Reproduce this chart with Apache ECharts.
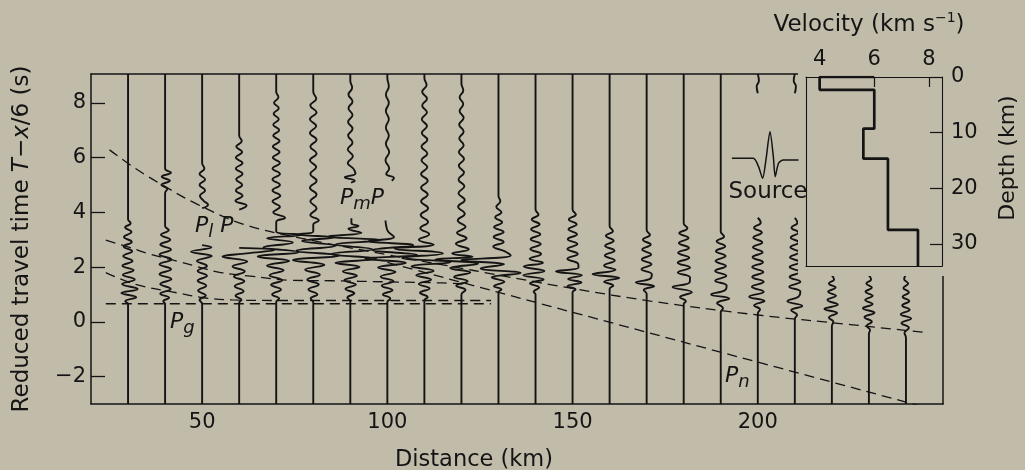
<!DOCTYPE html>
<html><head><meta charset="utf-8">
<script src="https://cdn.jsdelivr.net/npm/echarts@6/dist/echarts.min.js"></script>
<style>html,body{margin:0;padding:0;background:#c1bbaa}#c{width:1025px;height:470px}</style>
</head><body><div id="c"></div>
<script>
// ---------- DATA ----------
// trace distances (km)
const distances = [30,40,50,60,70,80,90,100,110,120,130,140,150,160,170,180,190,200,210,220,230,240];
// each trace: [reduced time (s), amplitude offset (km)] from top to bottom; null = gap in trace
const tr30 = [[9.05,0],[3.75,0],[3.6,0.7],[3.45,-0.8],[3.28,0.9],[3.1,-1.1],[2.92,1.0],[2.75,-1.2],[2.58,1.1],[2.4,-1.3],[2.22,1.2],[2.05,-1.5],[1.88,1.5],[1.72,-1.4],[1.55,1.8],[1.38,-1.6],[1.2,2.6],[1.05,-1.8],[0.9,2.2],[0.75,-0.8],[0.65,0],[-3,0]];
const tr40 = [[9.05,0],[5.6,0],[5.45,1.6],[5.3,-0.9],[5.15,1.3],[5.0,-1.0],[4.85,0.6],[4.7,0],[3.5,0],[3.35,1.0],[3.18,-1.1],[3.0,1.4],[2.82,-1.3],[2.64,1.6],[2.46,-1.5],[2.28,1.7],[2.1,-1.5],[1.92,1.6],[1.74,-1.5],[1.56,1.7],[1.38,-1.3],[1.2,1.5],[1.03,-1.3],[0.88,1.1],[0.75,-0.5],[0.65,0],[-3,0]];
const tr50 = [[9.05,0],[5.8,0],[5.6,0.6],[5.4,-0.7],[5.2,0.8],[5.0,-0.7],[4.8,0.8],[4.6,-0.6],[4.42,0.4],[4.28,1.6],[4.15,0],null,[2.8,0],[2.72,2.5],[2.56,-3.0],[2.4,2.6],[2.22,-1.4],[2.04,1.3],[1.86,-1.2],[1.68,1.3],[1.5,-1.2],[1.32,1.1],[1.14,-1.1],[0.96,1.0],[0.8,-0.7],[0.65,0],[-3,0]];
const tr60 = [[9.05,0],[6.8,0],[6.6,0.7],[6.4,-0.8],[6.2,0.8],[6.0,-0.9],[5.8,0.9],[5.6,-0.9],[5.4,0.9],[5.2,-0.8],[5.0,0.8],[4.8,-0.9],[4.6,0.9],[4.42,-1.0],[4.25,2.0],[4.1,0],null,[2.7,0],[2.62,9.5],[2.5,2],[2.38,-4.5],[2.2,2.2],[2.02,-1.8],[1.84,1.5],[1.66,-1.4],[1.48,1.4],[1.3,-1.2],[1.12,1.2],[0.95,-1.0],[0.8,0.6],[0.7,0],[-3,0]];
const tr70 = [[9.05,0],[8.4,0],[8.2,0.6],[8.0,-0.6],[7.8,0.7],[7.6,-0.7],[7.4,0.7],[7.2,-0.8],[7.0,0.8],[6.8,-0.8],[6.6,0.9],[6.4,-0.9],[6.2,0.9],[6.0,-0.9],[5.8,1.0],[5.6,-1.0],[5.4,1.0],[5.2,-1.0],[5.0,1.0],[4.8,-1.0],[4.6,1.1],[4.4,-1.0],[4.2,1.0],[4.0,-0.8],[3.8,2.4],[3.65,0],[3.3,0],[3.18,7],[3.05,-2.5],[2.9,4.5],[2.72,-3.5],[2.55,6],[2.38,-5],[2.22,3.5],[2.05,-2.5],[1.88,2.0],[1.7,-1.8],[1.52,1.6],[1.35,-1.4],[1.18,1.3],[1.0,-1.1],[0.85,0.8],[0.72,0],[-3,0]];
const tr80 = [[9.05,0],[8.4,0],[8.15,0.8],[7.9,-0.8],[7.65,0.9],[7.4,-0.9],[7.15,0.8],[6.9,-0.9],[6.65,0.9],[6.4,-0.8],[6.15,0.9],[5.9,-0.9],[5.65,0.8],[5.4,-0.8],[5.15,0.9],[4.9,-0.9],[4.65,0.9],[4.4,-0.8],[4.15,0.9],[3.9,-0.8],[3.7,1.5],[3.55,0],[3.3,0],[3.2,-4],[3.08,5.5],[2.95,-3],[2.78,6],[2.6,-4.5],[2.42,7],[2.25,-5.5],[2.08,3],[1.9,-2.2],[1.72,1.8],[1.54,-1.6],[1.36,1.5],[1.18,-1.3],[1.0,1.1],[0.85,-0.7],[0.72,0],[-3,0]];
const tr90 = [[9.05,0],[8.8,0],[8.55,0.5],[8.3,-0.5],[8.05,0.6],[7.8,-0.5],[7.55,0.6],[7.3,-0.6],[7.05,0.6],[6.8,-0.6],[6.55,0.6],[6.3,-0.7],[6.05,0.7],[5.8,-0.7],[5.6,0.8],[5.42,1.4],[5.28,-1.5],[5.15,1.2],[5.08,0.2],null,[3.78,0.3],[3.6,0.3],[3.5,2.2],[3.4,-0.5],[3.25,3],[3.12,-6],[2.98,8],[2.82,-4],[2.65,6],[2.48,-5],[2.3,7],[2.15,-4],[2.0,2.5],[1.84,-2],[1.68,1.8],[1.52,-1.6],[1.36,1.5],[1.2,-1.3],[1.04,1.1],[0.88,-0.8],[0.75,0],[-3,0]];
const tr100 = [[9.05,0],[8.9,0],[8.6,0.4],[8.3,-0.4],[8.0,0.4],[7.7,-0.4],[7.4,0.4],[7.1,-0.4],[6.8,0.4],[6.5,-0.4],[6.2,0.5],[5.9,-0.5],[5.6,0.5],[5.4,-0.3],[5.25,1.8],[5.15,1.2],null,[3.7,-0.5],[3.5,-0.3],[3.3,0.2],[3.1,1.8],[2.95,-5],[2.8,7],[2.62,-4],[2.45,8],[2.3,-6],[2.15,5],[1.98,-2.5],[1.82,2.2],[1.65,-1.8],[1.48,1.7],[1.32,-1.5],[1.15,1.4],[1.0,-1.2],[0.85,0.8],[0.72,0],[-3,0]];
const tr110 = [[9.05,0],[8.9,0],[8.65,0.6],[8.4,-0.6],[8.15,0.7],[7.9,-0.6],[7.65,0.7],[7.4,-0.7],[7.15,0.7],[6.9,-0.7],[6.65,0.8],[6.4,-0.8],[6.15,0.8],[5.9,-0.8],[5.65,0.8],[5.4,-0.9],[5.15,0.9],[4.9,-0.9],[4.65,0.9],[4.4,-0.9],[4.15,1.0],[3.9,-1.0],[3.65,1.0],[3.42,-1.1],[3.2,1.3],[3.0,-1.5],[2.82,2.5],[2.68,-8],[2.5,5],[2.33,-6],[2.18,7],[2.02,-3.5],[1.86,2.5],[1.7,-2.2],[1.54,1.8],[1.38,-1.5],[1.22,1.4],[1.06,-1.2],[0.9,0.9],[0.78,0],[-3,0]];
const tr120 = [[9.05,0],[8.7,0],[8.45,0.5],[8.2,-0.5],[7.95,0.5],[7.7,-0.5],[7.45,0.6],[7.2,-0.6],[6.95,0.6],[6.7,-0.6],[6.45,0.6],[6.2,-0.7],[5.95,0.7],[5.7,-0.7],[5.45,0.7],[5.2,-0.8],[4.95,0.8],[4.7,-0.8],[4.45,0.9],[4.2,-0.9],[3.95,0.9],[3.7,-1.0],[3.47,1.1],[3.25,-1.2],[3.05,1.4],[2.85,-1.5],[2.65,2.0],[2.5,-2.5],[2.38,3],[2.28,-7],[2.12,4.5],[1.96,-3],[1.8,2.4],[1.64,-2],[1.48,1.7],[1.32,-1.4],[1.16,1.1],[1.0,0],[-3,0]];
const tr130 = [[9.05,0],[4.6,0],[4.4,0.5],[4.2,-0.6],[4.0,0.8],[3.82,-0.9],[3.64,1.0],[3.46,-1.2],[3.28,1.4],[3.1,-1.3],[2.92,1.4],[2.75,-1.4],[2.58,1.6],[2.42,3.3],[2.25,-10],[2.1,1.5],[1.95,-4.8],[1.78,6],[1.62,-1.8],[1.46,1.6],[1.3,-1.2],[1.18,0.8],[1.08,0],[-3,0]];
const tr140 = [[9.05,0],[4.1,0],[3.92,0.8],[3.74,-1.0],[3.56,1.1],[3.38,-1.2],[3.2,1.3],[3.02,-1.3],[2.84,1.4],[2.66,-1.4],[2.48,1.5],[2.3,-1.6],[2.16,2.0],[2.02,-3.2],[1.86,2.4],[1.7,-3.3],[1.55,2.2],[1.4,-1.5],[1.25,1.0],[1.1,-0.5],[1.0,0],[-3,0]];
const tr150 = [[9.05,0],[4.1,0],[3.92,0.9],[3.74,-1.0],[3.56,1.1],[3.38,-1.1],[3.2,1.2],[3.02,-1.3],[2.84,1.3],[2.66,-1.4],[2.48,1.4],[2.3,-1.4],[2.12,1.5],[1.98,1.6],[1.84,-4.5],[1.7,2.5],[1.56,-1.2],[1.44,2.4],[1.3,-1.4],[1.18,0.8],[1.08,0],[-3,0]];
const tr160 = [[9.05,0],[3.5,0],[3.32,0.9],[3.14,-1.0],[2.96,1.1],[2.78,-1.2],[2.6,1.3],[2.42,-1.3],[2.24,1.4],[2.06,-1.5],[1.9,1.6],[1.74,-4.6],[1.6,2.6],[1.46,-1.5],[1.32,1.0],[1.2,0],[-3,0]];
const tr170 = [[9.05,0],[3.35,0],[3.18,0.9],[3.0,-1.0],[2.82,1.1],[2.64,-1.2],[2.46,1.2],[2.28,-1.3],[2.1,1.3],[1.92,-1.4],[1.74,1.4],[1.58,1.0],[1.44,-2.9],[1.3,2.0],[1.16,-0.8],[1.02,0],[-3,0]];
const tr180 = [[9.05,0],[3.6,0],[3.42,1.0],[3.24,-1.2],[3.06,1.3],[2.88,-1.3],[2.7,1.4],[2.52,-1.5],[2.34,1.5],[2.16,-1.6],[1.98,1.7],[1.8,-1.6],[1.62,1.7],[1.44,1.6],[1.27,-3.0],[1.08,2.2],[0.9,-1.0],[0.75,0.6],[0.65,0],[-3,0]];
const tr190 = [[9.05,0],[3.3,0],[3.12,0.9],[2.94,-1.1],[2.76,1.2],[2.58,-1.3],[2.4,1.3],[2.22,-1.4],[2.04,1.4],[1.86,-1.5],[1.68,1.5],[1.5,-1.5],[1.32,1.6],[1.16,1.2],[1.0,-2.6],[0.85,2.3],[0.68,-1.0],[0.5,0.6],[0.35,0],[-3,0]];
const tr200 = [[9.05,0],[8.8,0.3],[8.6,-0.3],[8.35,0],null,[3.8,0],[3.62,0.8],[3.44,-1.0],[3.26,1.1],[3.08,-1.2],[2.9,1.2],[2.72,-1.3],[2.54,1.3],[2.36,-1.4],[2.18,1.4],[2.0,-1.5],[1.82,1.5],[1.64,-1.5],[1.46,1.6],[1.28,-1.6],[1.1,1.6],[0.92,-2.3],[0.76,1.8],[0.6,-1.0],[0.45,0.6],[0.3,0],[-3,0]];
const tr210 = [[9.05,0],[8.8,-0.3],[8.6,0.3],[8.35,0],null,[3.8,0],[3.62,0.7],[3.44,-0.9],[3.26,1.0],[3.08,-1.1],[2.9,1.1],[2.72,-1.2],[2.54,1.2],[2.36,-1.3],[2.18,1.3],[2.0,-1.4],[1.82,1.4],[1.64,-1.4],[1.46,1.5],[1.28,-1.5],[1.1,1.5],[0.92,1.0],[0.75,-2.0],[0.58,2.0],[0.42,-1.0],[0.25,0.6],[0.1,0],[-3,0]];
const tr220 = [[1.7,0],[1.55,0.6],[1.4,-0.8],[1.25,1.0],[1.1,-1.0],[0.95,1.1],[0.8,-1.2],[0.63,1.6],[0.47,-2.0],[0.32,1.4],[0.15,-0.8],[0.0,0.4],[-0.15,0],[-3,0]];
const tr230 = [[1.7,0],[1.55,0.6],[1.4,-0.7],[1.25,0.8],[1.1,-0.9],[0.95,1.0],[0.8,-1.0],[0.65,1.0],[0.5,-1.6],[0.33,1.5],[0.17,-1.2],[0.0,0.8],[-0.15,-0.6],[-0.3,0.3],[-0.45,0],[-3,0]];
const tr240 = [[1.72,0],[1.56,-0.5],[1.4,0.6],[1.24,-0.7],[1.08,0.8],[0.92,-0.9],[0.76,0.9],[0.6,-1.0],[0.44,1.0],[0.28,-1.4],[0.12,1.4],[-0.05,-1.2],[-0.22,0.8],[-0.4,-0.4],[-0.58,0],[-3,0]];
const traces = [tr30,tr40,tr50,tr60,tr70,tr80,tr90,tr100,tr110,tr120,tr130,tr140,tr150,tr160,tr170,tr180,tr190,tr200,tr210,tr220,tr230,tr240];

// travel-time curves [distance km, reduced time s]
const curvePmP   = [[25,6.28],[32,5.6],[40.5,4.9],[48.6,4.3],[61,3.57],[76.5,3.06],[100,2.45],[115,2.08],[131.5,1.67],[150,1.22],[171,0.76],[200,0.25],[225,-0.1],[246,-0.4]];
const curvePn    = [[100,2.17],[245,-3.11]];
const curvePlP   = [[24,2.98],[30.6,2.71],[35.9,2.47],[43.2,2.22],[51.3,1.92],[55,1.8],[63,1.67],[74,1.52],[85,1.5],[100,1.46],[115,1.42],[122,1.38]];
const curveLower = [[24,1.8],[32,1.37],[43.2,1.06],[50.4,0.88],[58,0.8],[70,0.78],[128,0.78]];
const curvePg    = [[24,0.66],[128,0.66]];

// source wavelet [distance-axis position, time-axis position]
const sourceWave = [[193.0,5.97],[198.8,5.97],[200.2,5.67],[201.3,5.24],[202.2,5.91],[203.3,6.94],[204.2,6.03],[204.7,5.30],[205.6,5.79],[206.9,5.91],[211.0,5.91]];

// velocity model
const layerTop = [0, 2.3, 9.3, 14.7, 27.5];
const layerVel = [4.0, 6.0, 5.6, 6.5, 7.6];
const modelBottom = 34;

// ticks
const xTicks = [50,100,150,200];
const yTicks = [-2,0,2,4,6,8];
const velTicks = [4,6,8];
const depthTicks = [0,10,20,30];

// ---------- CHART ----------
const BG = '#c1bbaa', INK = '#141414', FONT = 'DejaVu Sans';
const chart = echarts.init(document.getElementById('c'), null, {renderer:'canvas'});

function traceData(d, pts){ return pts.map(p => p ? [d + p[1], p[0]] : ['-','-']); }

const series = [];
distances.forEach((d,i) => series.push({
  type:'line', xAxisIndex:0, yAxisIndex:0, data: traceData(d, traces[i]),
  smooth:0.45, symbol:'none', silent:true, z:3, connectNulls:false,
  lineStyle:{color:INK, width:1.9}
}));
[[curvePmP,true],[curvePn,false],[curvePlP,true],[curveLower,true],[curvePg,false]].forEach(([c,s]) => series.push({
  type:'line', xAxisIndex:0, yAxisIndex:0, data:c, smooth:s?0.4:false, symbol:'none', silent:true, z:2,
  lineStyle:{color:INK, width:1.3, type:[10,6]}
}));
series.push({type:'line', xAxisIndex:0, yAxisIndex:0, data:sourceWave, smooth:0.25, symbol:'none', silent:true, z:6,
  lineStyle:{color:INK, width:1.5}});
// velocity profile
const prof = [[layerVel[1], 0]];
layerTop.forEach((t,i) => { prof.push([layerVel[i], t]); const nb = i+1 < layerTop.length ? layerTop[i+1] : modelBottom; prof.push([layerVel[i], nb]); });
series.push({type:'line', xAxisIndex:2, yAxisIndex:2, data:prof, symbol:'none', silent:true, z:12,
  lineStyle:{color:INK, width:2.7}});

const lab = {color:INK, fontFamily:FONT, fontSize:21};
const line = w => ({show:true, onZero:false, lineStyle:{color:INK, width:w}});
const minus = v => String(v).replace('-','\u2212');

const pRich = {
  p:{fontSize:22, fontStyle:'italic', fontFamily:FONT, lineHeight:30, fill:INK, color:INK},
  s:{fontSize:18, fontStyle:'italic', fontFamily:FONT, lineHeight:16, verticalAlign:'bottom', fill:INK, color:INK}
};
function txt(x,y,text,opts){
  opts = opts||{};
  return {type:'text', x:x, y:y, rotation:opts.rot||0, z:20, silent:true,
    style:Object.assign({text:text, fill:INK, fontFamily:FONT, fontSize:opts.size||22,
      align:opts.align||'center', textAlign:opts.align||'center', verticalAlign:'middle', textVerticalAlign:'middle'},
      opts.rich?{rich:opts.rich}:{})};
}

const option = {
  backgroundColor: BG,
  animation:false,
  grid:[{left:91, top:74, width:852, height:330},{left:806, top:77, width:136, height:189}],
  xAxis:[
    {gridIndex:0, type:'value', min:20, max:250, position:'bottom', axisLine:line(1.5), axisTick:{show:false}, splitLine:{show:false},
     axisLabel:Object.assign({customValues:xTicks, margin:8}, lab)},
    {gridIndex:0, type:'value', min:20, max:250, position:'top', axisLine:line(1.5), axisTick:{show:false}, axisLabel:{show:false}, splitLine:{show:false}},
    {gridIndex:1, type:'value', min:3.5, max:8.48, position:'top', z:10, axisLine:line(1.1), splitLine:{show:false},
     axisTick:{show:true, inside:true, length:10, customValues:velTicks, lineStyle:{color:INK,width:1.2}},
     axisLabel:Object.assign({customValues:velTicks, margin:7}, lab)},
    {gridIndex:1, type:'value', min:3.5, max:8.48, position:'bottom', z:10, axisLine:line(1.1), axisTick:{show:false}, axisLabel:{show:false}, splitLine:{show:false}}
  ],
  yAxis:[
    {gridIndex:0, type:'value', min:-3, max:9.05, position:'left', axisLine:line(1.5), splitLine:{show:false},
     axisTick:{show:true, inside:true, length:14, customValues:yTicks, lineStyle:{color:INK,width:1.3}},
     axisLabel:Object.assign({customValues:yTicks, margin:5, formatter:minus}, lab)},
    {gridIndex:0, type:'value', min:-3, max:9.05, position:'right', axisLine:line(1.5), axisTick:{show:false}, axisLabel:{show:false}, splitLine:{show:false}},
    {gridIndex:1, type:'value', min:0, max:modelBottom, inverse:true, position:'right', z:10, axisLine:line(1.1), splitLine:{show:false},
     axisTick:{show:true, inside:true, length:12, customValues:depthTicks, lineStyle:{color:INK,width:1.2}},
     axisLabel:Object.assign({customValues:depthTicks, margin:9}, lab)},
    {gridIndex:1, type:'value', min:0, max:modelBottom, inverse:true, position:'left', z:10, axisLine:line(1.1), axisTick:{show:false}, axisLabel:{show:false}, splitLine:{show:false}}
  ],
  series: series,
  graphic:[
    {type:'rect', shape:{x:798, y:0, width:227, height:276}, style:{fill:BG}, z:5, silent:true},
    txt(474, 460, 'Distance (km)', {size:22.5}),
    txt(22, 239, '{n|Reduced travel time }{i|T}{n|\u2212}{i|x}{n|/6 (s)}', {rot:Math.PI/2, rich:{
      n:{fontSize:23, fontFamily:FONT, fill:INK, color:INK}, i:{fontSize:23, fontStyle:'italic', fontFamily:FONT, fill:INK, color:INK}}}),
    txt(1008, 158, 'Depth (km)', {rot:Math.PI/2, size:22}),
    txt(869, 25, '{n|Velocity (km s}{s|\u22121}{n|)}', {rich:{
      n:{fontSize:23, fontFamily:FONT, lineHeight:28, fill:INK, color:INK},
      s:{fontSize:14, fontFamily:FONT, lineHeight:14, verticalAlign:'top', fill:INK, color:INK}}}),
    txt(768, 192, 'Source', {size:23}),
    txt(170, 322, '{p|P}{s|g}', {align:'left', rich:pRich}),
    txt(195, 226, '{p|P}{s|l}{p| P}', {align:'left', rich:pRich}),
    txt(340, 198, '{p|P}{s|m}{p|P}', {align:'left', rich:pRich}),
    txt(725, 376, '{p|P}{s|n}', {align:'left', rich:pRich})
  ]
};
chart.setOption(option);
</script></body></html>
